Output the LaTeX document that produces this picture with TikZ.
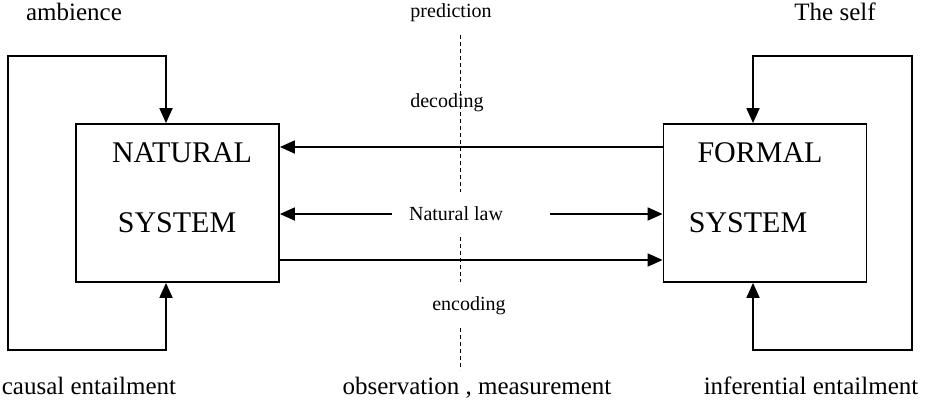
\documentclass[tikz,border=0pt]{standalone}
\usepackage{fontspec}
\setmainfont{Liberation Serif}
\usetikzlibrary{arrows.meta}
\begin{document}
\begin{tikzpicture}[x=1pt,y=-1pt,
  line/.style={line width=1.8pt},
  arr/.style={line width=1.8pt,-{Triangle[length=15pt,width=13pt]}},
  sysbox/.style={draw,line width=1.8pt,minimum width=203pt,minimum height=158pt,inner sep=0pt},
  big/.style={font=\fontsize{30}{36}\selectfont,inner sep=0pt,anchor=base},
  lab/.style={font=\fontsize{25}{30}\selectfont,inner sep=0pt,anchor=base},
  small/.style={font=\fontsize{20}{24}\selectfont,inner sep=0pt,anchor=base},
  dashline/.style={line width=1pt,dash pattern=on 4pt off 3pt}
]
\useasboundingbox (0,0) rectangle (925,410);
% boxes
\node[sysbox] (nat) at (177.5,203) {};
\node[sysbox] (form) at (765,203) {};
% dashed divider
\coordinate (d1) at (460,35);
\coordinate (d2) at (460,192);
\coordinate (d3) at (460,237);
\coordinate (d4) at (460,282);
\coordinate (d5) at (460,328);
\coordinate (d6) at (460,370);
\draw[dashline] (d1) -- (d2);
\draw[dashline] (d3) -- (d4);
\draw[dashline] (d5) -- (d6);
% texts
\node[lab] (amb) at (74,20) {ambience};
\node[small] (pred) at (451,17) {prediction};
\node[lab] (self) at (835,20) {The self};
\node[small] (dec) at (447,107) {decoding};
\node[big] (t1) at (182,162) {NATURAL};
\node[big] (t2) at (177,232) {SYSTEM};
\node[big] (t3) at (760,162) {FORMAL};
\node[big] (t4) at (748,232) {SYSTEM};
\node[small] (nlaw) at (456,220) {Natural law};
\node[small] (enc) at (469,310) {encoding};
\node[lab] (caus) at (89,394) {causal entailment};
\node[lab] (obs) at (477,394) {observation , measurement};
\node[lab] (inf) at (811,394) {inferential entailment};
% loops
\coordinate (ll) at (8,203);
\coordinate (lt) at (166,56);
\coordinate (lb) at (166,350);
\draw[arr] (ll) |- (lt) -- (lt |- nat.north);
\draw[arr] (ll) |- (lb) -- (lb |- nat.south);
\coordinate (rr) at (912,203);
\coordinate (rt) at (753,56);
\coordinate (rb) at (753,350);
\draw[arr] (rr) |- (rt) -- (rt |- form.north);
\draw[arr] (rr) |- (rb) -- (rb |- form.south);
% horizontal connectors
\coordinate (decy) at (0,147);
\coordinate (ency) at (0,260);
\coordinate (nl1) at (392,214);
\coordinate (nl2) at (550,214);
\draw[arr] (form.west |- decy) -- (nat.east |- decy);
\draw[arr] (nl1) -- (nat.east |- nl1);
\draw[arr] (nl2) -- (form.west |- nl2);
\draw[arr] (nat.east |- ency) -- (form.west |- ency);
\end{tikzpicture}
\end{document}
